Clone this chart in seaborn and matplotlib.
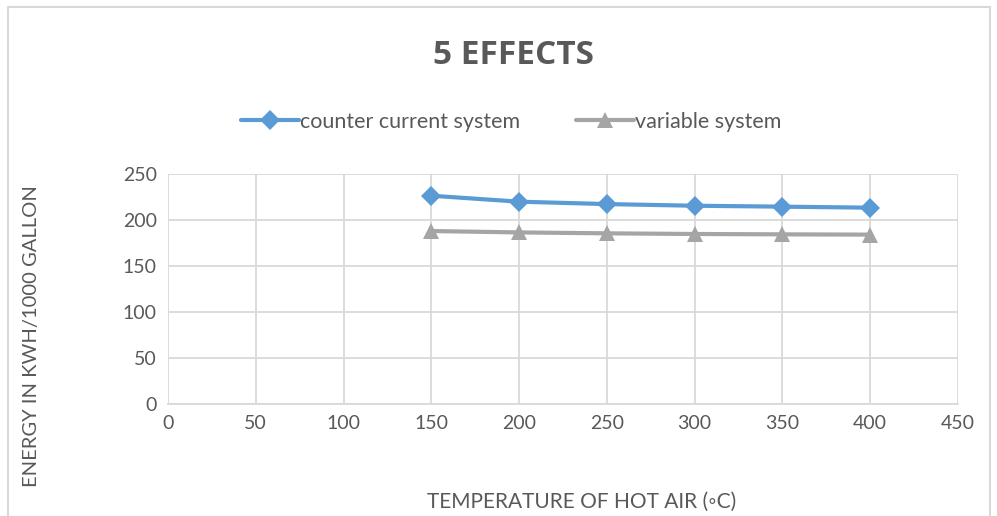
import numpy as np
import pandas as pd
import matplotlib
matplotlib.use("Agg")
import matplotlib.pyplot as plt
import seaborn as sns
from matplotlib.patches import Rectangle
from matplotlib.lines import Line2D

temperature = [150, 200, 250, 300, 350, 400]
counter_current = [226.4, 219.9, 217.3, 215.5, 214.5, 213.4]
variable = [188.0, 186.5, 185.5, 184.8, 184.4, 184.1]
series_names = ["counter current system", "variable system"]
x_ticks = [0, 50, 100, 150, 200, 250, 300, 350, 400, 450]
y_ticks = [0, 50, 100, 150, 200, 250]

df = pd.DataFrame({
    "T": temperature * 2,
    "E": counter_current + variable,
    "series": [series_names[0]] * len(temperature) + [series_names[1]] * len(temperature),
})

sns.set_theme(style="white")
plt.rcParams["font.family"] = ["Lato", "DejaVu Sans"]
txt = "#595959"
grid = "#d9d9d9"

fig = plt.figure(figsize=(9.97, 5.16), dpi=100)
ax = fig.add_axes([168/997, 1-404/516, 790/997, 230/516])

palette = {series_names[0]: "#5b9bd5", series_names[1]: "#a5a5a5"}
markers = {series_names[0]: "D", series_names[1]: "^"}
msize = {series_names[0]: 10.5, series_names[1]: 12}
sns.lineplot(data=df, x="T", y="E", hue="series", style="series", palette=palette,
             markers=markers, dashes=False, linewidth=3, markersize=10.5,
             markeredgewidth=0, ax=ax, legend=False)
for line in ax.get_lines():
    if line.get_marker() == "^":
        line.set_markersize(12)

ax.set_xlim(0, 450)
ax.set_ylim(0, 250)
ax.set_xticks(x_ticks)
ax.set_yticks(y_ticks)
ax.grid(True, color=grid, linewidth=1.3)
ax.set_axisbelow(True)
for s in ["top", "right", "left"]:
    ax.spines[s].set_visible(False)
ax.spines["bottom"].set_color(grid)
ax.spines["bottom"].set_linewidth(1.3)
ax.tick_params(axis="both", length=0, labelsize=14, labelcolor=txt, pad=8)
ax.set_xlabel("")
ax.set_ylabel("")

fig.text(513/997, 1-55/516, "5 EFFECTS", ha="center", va="center",
         fontsize=24, fontweight="bold", color=txt, family=["Open Sans", "DejaVu Sans"])
fig.text(582/997, 1-502/516, "TEMPERATURE OF HOT AIR (◦C)", ha="center", va="center",
         fontsize=15, color=txt)
fig.text(32/997, 1-336/516, "ENERGY IN KWH/1000 GALLON", ha="center", va="center",
         rotation=90, fontsize=14.5, color=txt)

handles = [Line2D([], [], color=palette[n], marker=markers[n], linewidth=3,
                  markersize=msize[n], markeredgewidth=0) for n in series_names]
fig.legend(handles, series_names, loc="center", bbox_to_anchor=(511/997, 1-122/516),
           ncol=2, frameon=False, fontsize=15.5, labelcolor=txt, handlelength=2.7,
           handletextpad=0.05, columnspacing=2.6)

fig.patches.append(Rectangle((8/997, -0.01), 982/997, 1-7/516+0.01, transform=fig.transFigure,
                             fill=False, edgecolor=grid, linewidth=1.5))

fig.savefig("out.png", dpi=100)
